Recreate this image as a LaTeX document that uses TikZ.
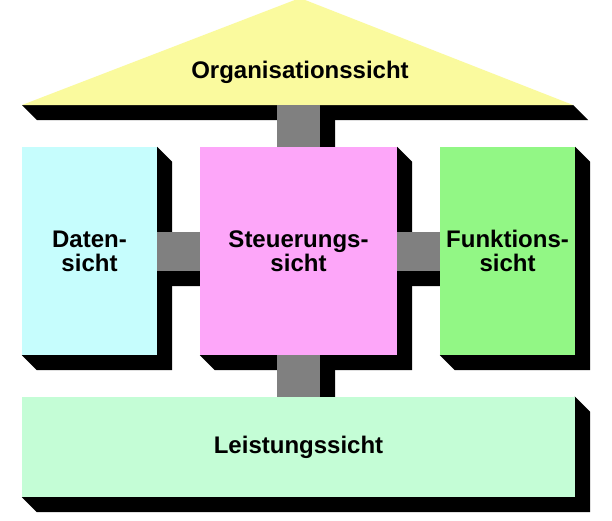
\documentclass[tikz,border=0pt]{standalone}
\usepackage{fontspec}
\setmainfont{Liberation Sans}
\usetikzlibrary{positioning,backgrounds}

\definecolor{roofyellow}{HTML}{FAFA9E}
\definecolor{datencol}{HTML}{C6FDFD}
\definecolor{steuercol}{HTML}{FDA6F9}
\definecolor{funkcol}{HTML}{92F785}
\definecolor{leistcol}{HTML}{C4FDD6}
\definecolor{linkgray}{HTML}{808080}
\definecolor{bgmid}{HTML}{E0E2EF}

\newcommand{\extrude}[1]{%
\fill[black] (#1.north east) -- ([shift={(15pt,-15pt)}]#1.north east)
  -- ([shift={(15pt,-15pt)}]#1.south east) -- ([shift={(15pt,-15pt)}]#1.south west)
  -- (#1.south west) -- cycle;}

\tikzset{
  view/.style={rectangle, inner sep=0pt, align=center,
    font=\fontsize{24}{24}\selectfont\bfseries},
  link/.style={rectangle, inner sep=0pt, fill=linkgray}
}

\begin{document}
\begin{tikzpicture}[x=1pt,y=-1pt]

\useasboundingbox (0,0) rectangle (612,520);

% Dach
\coordinate (roofL) at (22,105);
\coordinate (roofR) at (573,105);
\coordinate (roofT) at (300,-2);
\fill[roofyellow] (roofL) -- (roofT) -- (roofR) -- cycle;
\node[view] (org) at (300,72) {Organisationssicht};

\node[link, minimum width=43pt, minimum height=42pt] (linkT) at (298.5,126) {};
\node[link, minimum width=43pt, minimum height=39pt] (linkL) at (178.5,251.5) {};
\node[link, minimum width=43pt, minimum height=39pt] (linkR) at (418.5,251.5) {};
\node[link, minimum width=43pt, minimum height=42pt] (linkB) at (298.5,376) {};

\node[view, fill=datencol, minimum width=135pt, minimum height=208pt] (daten) at (89.5,251) {Daten-\\sicht};
\node[view, fill=steuercol, minimum width=197pt, minimum height=208pt] (steuer) at (298.5,251) {Steuerungs-\\sicht};
\node[view, fill=funkcol, minimum width=135pt, minimum height=208pt] (funk) at (507.5,251) {Funktions-\\sicht};
\node[view, fill=leistcol, minimum width=553pt, minimum height=100pt] (leist) at (298.5,447) {Leistungssicht};

\begin{pgfonlayer}{background}
\shade[top color=white, middle color=bgmid, bottom color=white] (0,0) rectangle (612,520);
\fill[black] (roofL) -- (roofR) -- ([shift={(15pt,-15pt)}]roofR) -- ([shift={(15pt,-15pt)}]roofL) -- cycle;
\extrude{linkT}
\extrude{linkL}
\extrude{linkR}
\extrude{linkB}
\extrude{daten}
\extrude{steuer}
\extrude{funk}
\extrude{leist}
\end{pgfonlayer}

\end{tikzpicture}
\end{document}
